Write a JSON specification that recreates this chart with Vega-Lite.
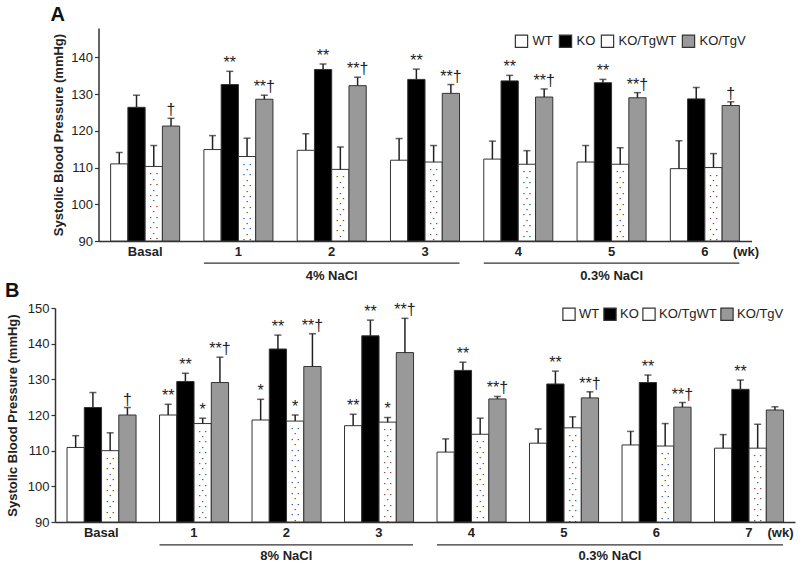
{
  "$schema": "https://vega.github.io/schema/vega-lite/v6.json",
  "padding": {"left": 5, "top": 5, "right": 5, "bottom": 5},
  "bounds": "flush",
  "center": true,
  "spacing": 67,
  "background": "white",
  "config": {
    "view": {"stroke": null},
    "font": "Liberation Sans",
    "axis": {"grid": false, "labelOverlap": false, "labelBound": false, "domainColor": "#333333", "domainWidth": 1.5, "tickColor": "#333333", "tickWidth": 1.2, "labelColor": "#222222", "titleColor": "#222222", "labelFontSize": 13, "titleFontSize": 13, "titleFontWeight": "bold", "labelFont": "Liberation Sans", "titleFont": "Liberation Sans"},
    "axisY": {"tickCount": 7},
    "legend": {"labelFont": "Liberation Sans", "labelFontSize": 13, "labelColor": "#222222", "padding": 0, "symbolType": "square", "symbolSize": 150, "symbolStrokeColor": "#333333", "symbolStrokeWidth": 1.2, "direction": "horizontal", "title": null}
  },
  "datasets": {
    "a": [
      {"group": "Basal", "series": "WT", "value": 111.0, "err": 114.1, "sig": ""},
      {"group": "Basal", "series": "KO", "value": 126.4, "err": 129.7, "sig": ""},
      {"group": "Basal", "series": "KO/TgWT", "value": 110.3, "err": 116.0, "sig": ""},
      {"group": "Basal", "series": "KO/TgV", "value": 121.3, "err": 123.4, "sig": "†"},
      {"group": "1", "series": "WT", "value": 114.9, "err": 118.7, "sig": ""},
      {"group": "1", "series": "KO", "value": 132.6, "err": 136.2, "sig": "**"},
      {"group": "1", "series": "KO/TgWT", "value": 113.0, "err": 118.0, "sig": ""},
      {"group": "1", "series": "KO/TgV", "value": 128.6, "err": 129.7, "sig": "**†"},
      {"group": "2", "series": "WT", "value": 114.7, "err": 119.2, "sig": ""},
      {"group": "2", "series": "KO", "value": 136.7, "err": 138.2, "sig": "**"},
      {"group": "2", "series": "KO/TgWT", "value": 109.5, "err": 115.6, "sig": ""},
      {"group": "2", "series": "KO/TgV", "value": 132.3, "err": 134.6, "sig": "**†"},
      {"group": "3", "series": "WT", "value": 112.0, "err": 117.9, "sig": ""},
      {"group": "3", "series": "KO", "value": 134.0, "err": 136.8, "sig": "**"},
      {"group": "3", "series": "KO/TgWT", "value": 111.5, "err": 116.0, "sig": ""},
      {"group": "3", "series": "KO/TgV", "value": 130.2, "err": 132.6, "sig": "**†"},
      {"group": "4", "series": "WT", "value": 112.3, "err": 117.2, "sig": ""},
      {"group": "4", "series": "KO", "value": 133.6, "err": 135.1, "sig": "**"},
      {"group": "4", "series": "KO/TgWT", "value": 110.9, "err": 114.6, "sig": ""},
      {"group": "4", "series": "KO/TgV", "value": 129.2, "err": 131.4, "sig": "**†"},
      {"group": "5", "series": "WT", "value": 111.5, "err": 116.0, "sig": ""},
      {"group": "5", "series": "KO", "value": 133.1, "err": 134.0, "sig": "**"},
      {"group": "5", "series": "KO/TgWT", "value": 110.9, "err": 115.4, "sig": ""},
      {"group": "5", "series": "KO/TgV", "value": 129.0, "err": 130.4, "sig": "**†"},
      {"group": "6", "series": "WT", "value": 109.7, "err": 117.3, "sig": ""},
      {"group": "6", "series": "KO", "value": 128.7, "err": 131.8, "sig": ""},
      {"group": "6", "series": "KO/TgWT", "value": 110.0, "err": 113.8, "sig": ""},
      {"group": "6", "series": "KO/TgV", "value": 126.9, "err": 127.9, "sig": "†"}
    ],
    "b": [
      {"group": "Basal", "series": "WT", "value": 110.9, "err": 114.2, "sig": ""},
      {"group": "Basal", "series": "KO", "value": 122.1, "err": 126.3, "sig": ""},
      {"group": "Basal", "series": "KO/TgWT", "value": 110.0, "err": 115.0, "sig": ""},
      {"group": "Basal", "series": "KO/TgV", "value": 120.0, "err": 122.1, "sig": "†"},
      {"group": "1", "series": "WT", "value": 120.0, "err": 123.0, "sig": "**"},
      {"group": "1", "series": "KO", "value": 129.4, "err": 131.7, "sig": "**"},
      {"group": "1", "series": "KO/TgWT", "value": 117.6, "err": 119.1, "sig": "*"},
      {"group": "1", "series": "KO/TgV", "value": 129.1, "err": 136.2, "sig": "**†"},
      {"group": "2", "series": "WT", "value": 118.6, "err": 124.4, "sig": "*"},
      {"group": "2", "series": "KO", "value": 138.5, "err": 142.4, "sig": "**"},
      {"group": "2", "series": "KO/TgWT", "value": 118.3, "err": 120.0, "sig": "*"},
      {"group": "2", "series": "KO/TgV", "value": 133.6, "err": 142.8, "sig": "**†"},
      {"group": "3", "series": "WT", "value": 117.0, "err": 120.2, "sig": "**"},
      {"group": "3", "series": "KO", "value": 142.2, "err": 146.6, "sig": "**"},
      {"group": "3", "series": "KO/TgWT", "value": 118.0, "err": 119.3, "sig": "*"},
      {"group": "3", "series": "KO/TgV", "value": 137.5, "err": 147.1, "sig": "**†"},
      {"group": "4", "series": "WT", "value": 109.6, "err": 113.3, "sig": ""},
      {"group": "4", "series": "KO", "value": 132.5, "err": 134.8, "sig": "**"},
      {"group": "4", "series": "KO/TgWT", "value": 114.6, "err": 119.1, "sig": ""},
      {"group": "4", "series": "KO/TgV", "value": 124.5, "err": 125.2, "sig": "**†"},
      {"group": "5", "series": "WT", "value": 112.1, "err": 116.1, "sig": ""},
      {"group": "5", "series": "KO", "value": 128.7, "err": 132.3, "sig": "**"},
      {"group": "5", "series": "KO/TgWT", "value": 116.4, "err": 119.5, "sig": ""},
      {"group": "5", "series": "KO/TgV", "value": 124.8, "err": 126.5, "sig": "**†"},
      {"group": "6", "series": "WT", "value": 111.6, "err": 115.4, "sig": ""},
      {"group": "6", "series": "KO", "value": 129.1, "err": 131.2, "sig": "**"},
      {"group": "6", "series": "KO/TgWT", "value": 111.3, "err": 117.6, "sig": ""},
      {"group": "6", "series": "KO/TgV", "value": 122.2, "err": 123.5, "sig": "**†"},
      {"group": "7", "series": "WT", "value": 110.7, "err": 114.5, "sig": ""},
      {"group": "7", "series": "KO", "value": 127.2, "err": 129.8, "sig": "**"},
      {"group": "7", "series": "KO/TgWT", "value": 110.7, "err": 117.4, "sig": ""},
      {"group": "7", "series": "KO/TgV", "value": 121.4, "err": 122.3, "sig": ""}
    ],
    "bracketsA": [
      {"label": "4% NaCl", "start": "1", "end": "3", "mid": "2"},
      {"label": "0.3% NaCl", "start": "4", "end": "6", "mid": "5"}
    ],
    "bracketsB": [
      {"label": "8% NaCl", "start": "1", "end": "3", "mid": "2"},
      {"label": "0.3% NaCl", "start": "4", "end": "7", "mid": "5"}
    ]
  },
  "resolve": {"scale": {"fill": "independent"}, "legend": {"fill": "independent"}},
  "vconcat": [
    {
      "title": {"text": "A", "anchor": "start", "frame": "group", "dx": -48, "fontSize": 20, "fontWeight": "bold", "baseline": "alphabetic", "offset": -13, "color": "#111111"},
      "width": 653,
      "height": 213,
      "encoding": {
        "x": {"field": "group", "type": "nominal", "sort": null, "scale": {"domain": ["Basal", "1", "2", "3", "4", "5", "6"], "paddingInner": 0.26, "paddingOuter": 0.13}, "title": "(wk)", "axis": {"labelFontWeight": "bold", "labelAngle": 0, "ticks": false, "labelPadding": 4, "titleX": 660, "titleY": 10, "titleAlign": "right", "titleBaseline": "middle"}}
      },
      "layer": [
        {
          "data": {"name": "a"},
          "mark": {"type": "bar", "stroke": "#333333", "strokeWidth": 1},
          "encoding": {
            "xOffset": {"field": "series", "type": "nominal", "scale": {"domain": ["WT", "KO", "KO/TgWT", "KO/TgV"], "paddingInner": 0, "paddingOuter": 0}},
            "y": {"field": "value", "type": "quantitative", "scale": {"domain": [90, 148], "nice": false, "zero": false}, "title": "Systolic Blood Pressure (mmHg)", "axis": {"values": [90, 100, 110, 120, 130, 140], "tickSize": 4, "labelPadding": 2, "titlePadding": 5}},
            "y2": {"datum": 90},
            "fill": {"field": "series", "type": "nominal", "scale": {"domain": ["WT", "KO", "KO/TgWT", "KO/TgV"], "range": ["#ffffff", "#000000", "#ffffff", "#999999"]}, "legend": {"orient": "none", "legendX": 416, "legendY": 6, "columnPadding": 3, "labelOffset": 4}}
          }
        },
        {
          "data": {"name": "a"},
          "transform": [{"filter": "datum.series === 'KO/TgWT'"}],
          "mark": {"type": "text", "clip": true, "baseline": "top", "dy": 3, "fontSize": 10, "lineHeight": 5.4, "color": "#111111", "text": ["·    ·", "·", "·    ·", "·", "·    ·", "·", "·    ·", "·", "·    ·", "·", "·    ·", "·", "·    ·", "·", "·    ·", "·", "·    ·", "·", "·    ·", "·", "·    ·", "·", "·    ·", "·"]},
          "encoding": {
            "xOffset": {"field": "series", "type": "nominal"},
            "y": {"field": "value", "type": "quantitative", "title": "Systolic Blood Pressure (mmHg)"}
          }
        },
        {
          "data": {"name": "a"},
          "mark": {"type": "rule", "color": "#222222", "strokeWidth": 1.5},
          "encoding": {
            "xOffset": {"field": "series", "type": "nominal"},
            "y": {"field": "value", "type": "quantitative", "title": "Systolic Blood Pressure (mmHg)"},
            "y2": {"field": "err"}
          }
        },
        {
          "data": {"name": "a"},
          "mark": {"type": "tick", "orient": "horizontal", "size": 7, "thickness": 1.5, "color": "#222222"},
          "encoding": {
            "xOffset": {"field": "series", "type": "nominal"},
            "y": {"field": "err", "type": "quantitative", "title": "Systolic Blood Pressure (mmHg)"}
          }
        },
        {
          "data": {"name": "a"},
          "mark": {"type": "text", "baseline": "alphabetic", "dy": -3, "fontSize": 16, "color": "#222222"},
          "encoding": {
            "xOffset": {"field": "series", "type": "nominal"},
            "y": {"field": "err", "type": "quantitative", "title": "Systolic Blood Pressure (mmHg)"},
            "text": {"field": "sig"}
          }
        },
        {
          "data": {"name": "bracketsA"},
          "mark": {"type": "rule", "color": "#333333", "strokeWidth": 1.2},
          "encoding": {
            "x": {"field": "start", "type": "nominal", "bandPosition": 0, "title": "(wk)"},
            "x2": {"field": "end", "bandPosition": 1},
            "y": {"datum": 84, "type": "quantitative", "title": "Systolic Blood Pressure (mmHg)"}
          }
        },
        {
          "data": {"name": "bracketsA"},
          "mark": {"type": "text", "fontSize": 13, "fontWeight": "bold", "baseline": "middle", "color": "#222222"},
          "encoding": {
            "x": {"field": "mid", "type": "nominal", "title": "(wk)"},
            "y": {"datum": 80.5, "type": "quantitative", "title": "Systolic Blood Pressure (mmHg)"},
            "text": {"field": "label"}
          }
        }
      ]
    },
    {
      "title": {"text": "B", "anchor": "start", "frame": "group", "dx": -50, "fontSize": 20, "fontWeight": "bold", "baseline": "alphabetic", "offset": -15, "color": "#111111"},
      "width": 740,
      "height": 214,
      "encoding": {
        "x": {"field": "group", "type": "nominal", "sort": null, "scale": {"domain": ["Basal", "1", "2", "3", "4", "5", "6", "7"], "paddingInner": 0.26, "paddingOuter": 0.13}, "title": "(wk)", "axis": {"labelFontWeight": "bold", "labelAngle": 0, "ticks": false, "labelPadding": 4, "titleX": 738, "titleY": 10, "titleAlign": "right", "titleBaseline": "middle"}}
      },
      "layer": [
        {
          "data": {"name": "b"},
          "mark": {"type": "bar", "stroke": "#333333", "strokeWidth": 1},
          "encoding": {
            "xOffset": {"field": "series", "type": "nominal", "scale": {"domain": ["WT", "KO", "KO/TgWT", "KO/TgV"], "paddingInner": 0, "paddingOuter": 0}},
            "y": {"field": "value", "type": "quantitative", "scale": {"domain": [90, 150], "nice": false, "zero": false}, "title": "Systolic Blood Pressure (mmHg)", "axis": {"values": [90, 100, 110, 120, 130, 140, 150], "tickSize": 4, "labelPadding": 2, "titlePadding": 8, "labelOverlap": false}},
            "y2": {"datum": 90},
            "fill": {"field": "series", "type": "nominal", "scale": {"domain": ["WT", "KO", "KO/TgWT", "KO/TgV"], "range": ["#ffffff", "#000000", "#ffffff", "#999999"]}, "legend": {"orient": "none", "legendX": 507, "legendY": -1, "columnPadding": 1, "labelOffset": 3}}
          }
        },
        {
          "data": {"name": "b"},
          "transform": [{"filter": "datum.series === 'KO/TgWT'"}],
          "mark": {"type": "text", "clip": true, "baseline": "top", "dy": 3, "fontSize": 10, "lineHeight": 5.4, "color": "#111111", "text": ["·    ·", "·", "·    ·", "·", "·    ·", "·", "·    ·", "·", "·    ·", "·", "·    ·", "·", "·    ·", "·", "·    ·", "·", "·    ·", "·", "·    ·", "·", "·    ·", "·", "·    ·", "·"]},
          "encoding": {
            "xOffset": {"field": "series", "type": "nominal"},
            "y": {"field": "value", "type": "quantitative", "title": "Systolic Blood Pressure (mmHg)"}
          }
        },
        {
          "data": {"name": "b"},
          "mark": {"type": "rule", "color": "#222222", "strokeWidth": 1.5},
          "encoding": {
            "xOffset": {"field": "series", "type": "nominal"},
            "y": {"field": "value", "type": "quantitative", "title": "Systolic Blood Pressure (mmHg)"},
            "y2": {"field": "err"}
          }
        },
        {
          "data": {"name": "b"},
          "mark": {"type": "tick", "orient": "horizontal", "size": 7, "thickness": 1.5, "color": "#222222"},
          "encoding": {
            "xOffset": {"field": "series", "type": "nominal"},
            "y": {"field": "err", "type": "quantitative", "title": "Systolic Blood Pressure (mmHg)"}
          }
        },
        {
          "data": {"name": "b"},
          "mark": {"type": "text", "baseline": "alphabetic", "dy": -3, "fontSize": 16, "color": "#222222"},
          "encoding": {
            "xOffset": {"field": "series", "type": "nominal"},
            "y": {"field": "err", "type": "quantitative", "title": "Systolic Blood Pressure (mmHg)"},
            "text": {"field": "sig"}
          }
        },
        {
          "data": {"name": "bracketsB"},
          "mark": {"type": "rule", "color": "#333333", "strokeWidth": 1.2},
          "encoding": {
            "x": {"field": "start", "type": "nominal", "bandPosition": 0, "title": "(wk)"},
            "x2": {"field": "end", "bandPosition": 1},
            "y": {"datum": 83.6, "type": "quantitative", "title": "Systolic Blood Pressure (mmHg)"}
          }
        },
        {
          "data": {"name": "bracketsB"},
          "transform": [{"filter": "datum.start === '1'"}],
          "mark": {"type": "text", "fontSize": 13, "fontWeight": "bold", "baseline": "middle", "color": "#222222"},
          "encoding": {
            "x": {"field": "mid", "type": "nominal", "title": "(wk)"},
            "y": {"datum": 80.4, "type": "quantitative", "title": "Systolic Blood Pressure (mmHg)"},
            "text": {"field": "label"}
          }
        },
        {
          "data": {"name": "bracketsB"},
          "transform": [{"filter": "datum.start === '4'"}],
          "mark": {"type": "text", "fontSize": 13, "fontWeight": "bold", "baseline": "middle", "color": "#222222"},
          "encoding": {
            "x": {"field": "mid", "type": "nominal", "bandPosition": 1.175, "title": "(wk)"},
            "y": {"datum": 80.4, "type": "quantitative", "title": "Systolic Blood Pressure (mmHg)"},
            "text": {"field": "label"}
          }
        }
      ]
    }
  ]
}
